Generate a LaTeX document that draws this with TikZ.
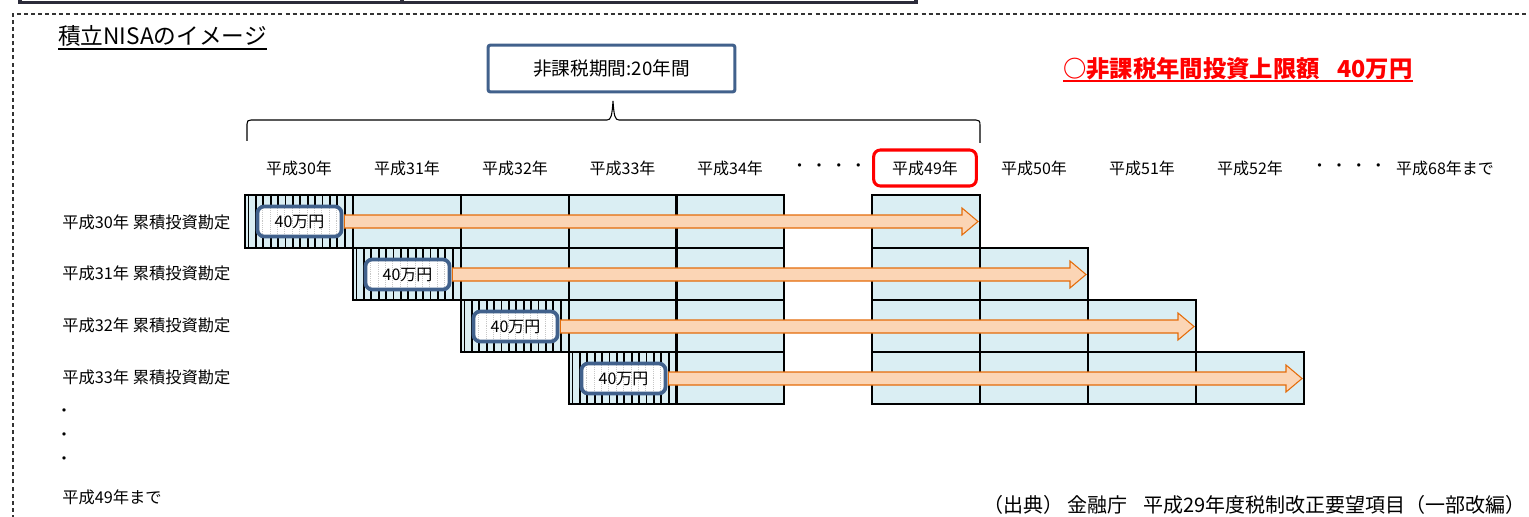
\documentclass[tikz,border=0pt]{standalone}
\usepackage{fontspec}
\setmainfont{Noto Sans CJK JP}
\usetikzlibrary{calc}
\definecolor{cellblue}{HTML}{DAEEF3}
\definecolor{arrfill}{HTML}{FBD5B5}
\definecolor{arrdraw}{HTML}{E46C0A}
\definecolor{boxblue}{HTML}{41618C}
\definecolor{framegray}{HTML}{2B2B3A}
\begin{document}
\begin{tikzpicture}[x=0.75pt,y=-0.75pt,
  hdr/.style={font=\fontsize{12pt}{14pt}\selectfont, inner sep=0pt},
  rowlbl/.style={font=\fontsize{12.2pt}{14pt}\selectfont, inner sep=0pt, anchor=west},
  hatchline/.style={line width=1.3pt},
  cellline/.style={draw=black, line width=1.5pt},
  valbox/.style={draw=boxblue, line width=2.8pt, fill=white, rounded corners=5pt,
    minimum width=63pt, minimum height=22.5pt, inner sep=0pt,
    font=\fontsize{12pt}{14pt}\selectfont,
    path picture={\foreach \k in {-6,...,6}
      \draw[black!22, densely dotted, line width=0.4pt]
        ([xshift=\k*5.55pt]path picture bounding box.north) --
        ([xshift=\k*5.55pt]path picture bounding box.south);}},
  arrowbody/.style={fill=arrfill, draw=arrdraw, line width=0.8pt, line join=miter},
  period/.style={draw=boxblue, line width=2.3pt, rounded corners=1.5pt,
    minimum width=185pt, minimum height=35pt, inner sep=0pt,
    font=\fontsize{14pt}{16pt}\selectfont},
  redyear/.style={draw=red, line width=2.3pt, rounded corners=5pt,
    minimum width=77pt, minimum height=27pt},
  ]
\useasboundingbox (0,0) rectangle (1529,517);

% top frame remains
\draw[framegray, line width=2.3pt] (20,-3) -- (20,2.5) -- (916,2.5) -- (916,-3);
\draw[framegray, line width=2.3pt] (402,-3) -- (402,2.5);
% dashed frame
\draw[black!80, line width=0.8pt, dash pattern=on 3pt off 2.3pt] (13,540) -- (13,14) -- (1545,14);

% title
\node[inner sep=0pt, anchor=base west, font=\fontsize{17pt}{19pt}\selectfont] (title) at (58,45) {積立NISAのイメージ};
\draw[line width=1.2pt] ([yshift=-3pt]title.base west) -- ([yshift=-3pt]title.base east);

% period box
\node[period] (per) at (611.5,68.5) {非課税期間:20年間};

% red heading
\node[inner sep=0pt, anchor=base west, text=red, font=\fontsize{17.5pt}{19pt}\selectfont\bfseries] (lim) at (1063,78) {○非課税年間投資上限額\hspace{0.75em}40万円};
\draw[red, line width=1.5pt] ([yshift=-2pt]lim.base west) -- ([yshift=-2pt]lim.base east);

% brace
\coordinate (brL) at (247,141);
\coordinate (brR) at (980,143);
\draw[line width=0.8pt] (brL) -- (247,124) .. controls (247,121) and (248,120) .. (251,120)
  -- (607,120) .. controls (611,120) and (612,116) .. (613,101)
  .. controls (614,116) and (615,120) .. (619,120)
  -- (976,120) .. controls (979,120) and (980,121) .. (980,125) -- (brR);

% column headers
\foreach \yr/\x in {30/299, 31/407, 32/515, 33/622.5, 34/730, 50/1034, 51/1142, 52/1250}
  \node[hdr] (h\yr) at (\x,168) {平成\yr{}年};
\node[hdr, redyear] (h49) at (925,168) {平成49年};
\node[hdr] (dotsA) at (829,168) {・ ・ ・ ・};
\node[hdr] (dotsB) at (1349,168) {・ ・ ・ ・};
\node[hdr] (h68) at (1445,168) {平成68年まで};

% rows
\foreach \r/\T/\B/\L/\R in {0/195/248/245/980, 1/248/300/353/1088, 2/300/352/461/1196, 3/352/404/569/1304}{
  \fill[cellblue] (\L,\T) rectangle (784,\B);
  \fill[cellblue] (872,\T) rectangle (\R,\B);
  \foreach \k in {0,...,13}
    \draw[hatchline] ({\L+3.5+7.4*\k},\T) -- ({\L+3.5+7.4*\k},\B);
  \foreach \x in {245,353,461,569,676}{
    \ifnum\x<\L\relax\else
      \draw[cellline] (\x,\T) rectangle ({\x+108},\B);
    \fi}
  \foreach \x in {872,980,1088,1196}{
    \ifnum\x<\R\relax
      \draw[cellline] (\x,\T) rectangle ({\x+108},\B);
    \fi}
  \node[valbox] (v\r) at ({\L+54.5},{\T+26.5}) {40万円};
  \coordinate (tip\r) at ({\R-2},{\T+26.5});
  \draw[arrowbody] ($(v\r.east)+(1,-6.5)$) -- ($(tip\r)+(-16,-6.5)$) -- ($(tip\r)+(-16,-13.5)$)
    -- (tip\r) -- ($(tip\r)+(-16,13.5)$) -- ($(tip\r)+(-16,6.5)$) -- ($(v\r.east)+(1,6.5)$) -- cycle;
}

% row labels
\node[rowlbl] (r30) at (62,222) {平成30年 累積投資勘定};
\node[rowlbl] (r31) at (62,273) {平成31年 累積投資勘定};
\node[rowlbl] (r32) at (62,325) {平成32年 累積投資勘定};
\node[rowlbl] (r33) at (62,377) {平成33年 累積投資勘定};
\node[hdr] (vd1) at (64,413) {・};
\node[hdr] (vd2) at (64,437) {・};
\node[hdr] (vd3) at (64,461) {・};
\node[rowlbl] (r49) at (62,497) {平成49年まで};

% source
\node[inner sep=0pt, anchor=east, font=\fontsize{15pt}{16pt}\selectfont] (src) at (1526,505) {（出典） 金融庁\hspace{0.8em}平成29年度税制改正要望項目（一部改編）};
\end{tikzpicture}
\end{document}
